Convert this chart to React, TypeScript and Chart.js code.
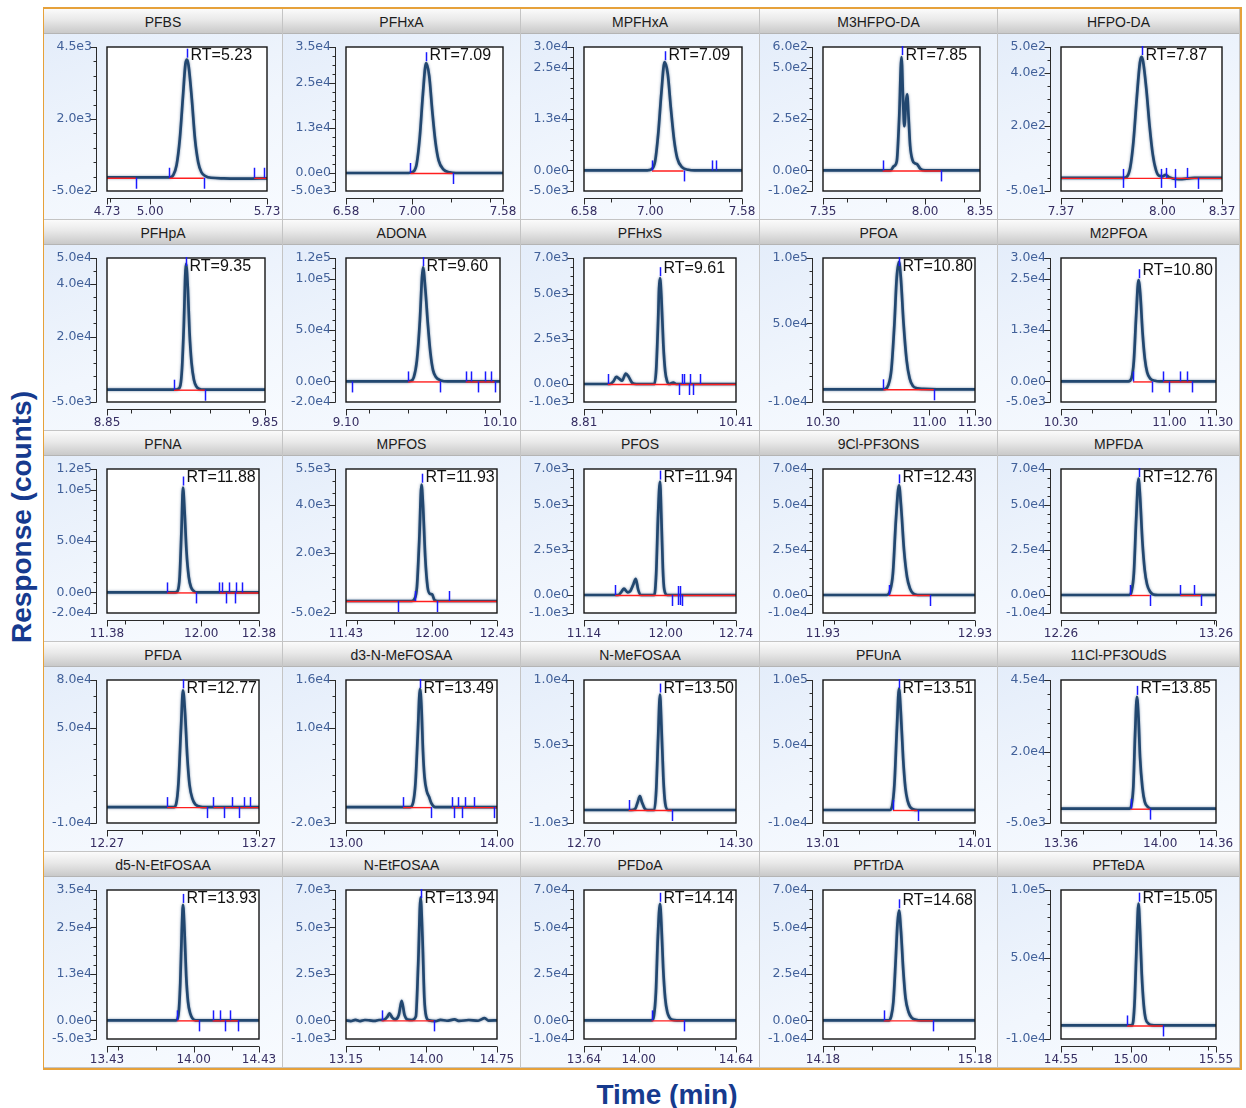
import React, { useEffect, useRef } from "react";
import { Chart, registerables } from "chart.js";

Chart.register(...registerables);

// ---------- data ----------
const TITLES = [
  "PFBS", "PFHxA", "MPFHxA", "M3HFPO-DA", "HFPO-DA",
  "PFHpA", "ADONA", "PFHxS", "PFOA", "M2PFOA",
  "PFNA", "MPFOS", "PFOS", "9Cl-PF3ONS", "MPFDA",
  "PFDA", "d3-N-MeFOSAA", "N-MeFOSAA", "PFUnA", "11Cl-PF3OUdS",
  "d5-N-EtFOSAA", "N-EtFOSAA", "PFDoA", "PFTrDA", "PFTeDA",
];

const RT_VALUES = [
  5.23, 7.09, 7.09, 7.85, 7.87,
  9.35, 9.6, 9.61, 10.8, 10.8,
  11.88, 11.93, 11.94, 12.43, 12.76,
  12.77, 13.49, 13.5, 13.51, 13.85,
  13.93, 13.94, 14.14, 14.68, 15.05,
];

const X_RANGES = [
  [4.73, 5.73], [6.58, 7.58], [6.58, 7.58], [7.35, 8.35], [7.37, 8.37],
  [8.85, 9.85], [9.1, 10.1], [8.81, 10.41], [10.3, 11.3], [10.3, 11.3],
  [11.38, 12.38], [11.43, 12.43], [11.14, 12.74], [11.93, 12.93], [12.26, 13.26],
  [12.27, 13.27], [13.0, 14.0], [12.7, 14.3], [13.01, 14.01], [13.36, 14.36],
  [13.43, 14.43], [13.15, 14.75], [13.64, 14.64], [14.18, 15.18], [14.55, 15.55],
];

const X_MID_LABELS = [
  [5.0], [7.0], [7.0], [8.0], [8.0],
  [], [], [], [11.0], [11.0],
  [12.0], [12.0], [12.0], [], [],
  [], [], [], [], [14.0],
  [14.0], [14.0], [14.0], [], [15.0],
];

const X_MINOR_STEP = [
  0.25, 0.25, 0.25, 0.25, 0.25,
  0.25, 0.25, 0.5, 0.25, 0.25,
  0.25, 0.25, 0.5, 0.25, 0.25,
  0.25, 0.25, 0.5, 0.25, 0.25,
  0.25, 0.5, 0.25, 0.25, 0.25,
];

const Y_TICKS = [
  [4500, 2000, -500], [35000, 25000, 12500, 0, -5000], [30000, 25000, 12500, 0, -5000], [600, 500, 250, 0, -100], [500, 400, 200, -50],
  [50000, 40000, 20000, -5000], [120000, 100000, 50000, 0, -20000], [7000, 5000, 2500, 0, -1000], [100000, 50000, -10000], [30000, 25000, 12500, 0, -5000],
  [120000, 100000, 50000, 0, -20000], [5500, 4000, 2000, -500], [7000, 5000, 2500, 0, -1000], [70000, 50000, 25000, 0, -10000], [70000, 50000, 25000, 0, -10000],
  [80000, 50000, -10000], [16000, 10000, -2000], [10000, 5000, -1000], [100000, 50000, -10000], [45000, 20000, -5000],
  [35000, 25000, 12500, 0, -5000], [7000, 5000, 2500, 0, -1000], [70000, 50000, 25000, 0, -10000], [70000, 50000, 25000, 0, -10000], [100000, 50000, -10000],
];

const Y_MINOR_STEP = [
  500, 2500, 2500, 50, 50,
  5000, 10000, 500, 10000, 2500,
  10000, 500, 500, 5000, 5000,
  10000, 2000, 1000, 10000, 5000,
  2500, 500, 5000, 5000, 10000,
];

// chromatogram traces: [time (min), response (counts)]
const TRACES = [
  [[4.73, -30], [5.12, -30], [5.145, 60], [5.165, 400], [5.185, 1300], [5.205, 2800], [5.22, 3900], [5.23, 4060], [5.24, 3850], [5.26, 2700], [5.28, 1300], [5.3, 500], [5.32, 150], [5.345, 20], [5.38, -40], [5.46, -60], [5.6, -70], [5.73, -60]],
  [[6.58, 0], [6.98, 0], [7.01, 400], [7.03, 2500], [7.05, 10000], [7.07, 22000], [7.09, 30500], [7.11, 27000], [7.13, 17000], [7.15, 8500], [7.17, 3500], [7.2, 1000], [7.24, 200], [7.28, 0], [7.58, 0]],
  [[6.58, 0], [6.98, 0], [7.01, 350], [7.03, 2200], [7.05, 9000], [7.07, 19000], [7.09, 26300], [7.11, 23500], [7.13, 15000], [7.15, 7500], [7.17, 3000], [7.2, 800], [7.24, 150], [7.28, 0], [7.58, 0]],
  [[7.35, 0], [7.78, 0], [7.8, 20], [7.82, 45], [7.835, 250], [7.85, 551], [7.861, 320], [7.868, 215], [7.878, 330], [7.886, 370], [7.895, 260], [7.905, 120], [7.92, 50], [7.935, 35], [7.95, 30], [7.97, 8], [8.0, 0], [8.35, 0]],
  [[7.37, 0], [7.76, 0], [7.78, 5], [7.8, 40], [7.82, 140], [7.84, 300], [7.86, 440], [7.87, 462], [7.88, 445], [7.9, 340], [7.92, 200], [7.94, 90], [7.96, 30], [7.98, 8], [8.0, 6], [8.02, 12], [8.04, 3], [8.1, -5], [8.2, 0], [8.37, 0]],
  [[8.85, -300], [9.28, -300], [9.3, 0], [9.315, 1500], [9.325, 8000], [9.335, 22000], [9.35, 47800], [9.362, 38000], [9.372, 22000], [9.385, 10000], [9.4, 3500], [9.415, 1000], [9.435, 0], [9.46, -300], [9.85, -300]],
  [[9.1, 0], [9.5, 0], [9.52, 500], [9.54, 4000], [9.56, 20000], [9.58, 60000], [9.593, 100000], [9.6, 111000], [9.615, 90000], [9.632, 55000], [9.648, 28000], [9.665, 11000], [9.685, 4000], [9.715, 1000], [9.76, 0], [10.1, 0]],
  [[8.81, 0], [9.08, 0], [9.12, 150], [9.15, 400], [9.18, 300], [9.21, 180], [9.25, 580], [9.28, 400], [9.32, 50], [9.36, 0], [9.55, 0], [9.57, 800], [9.59, 3500], [9.6, 5300], [9.61, 5880], [9.625, 4800], [9.645, 2200], [9.665, 700], [9.685, 150], [9.71, 0], [9.75, 80], [9.78, 0], [10.41, 0]],
  [[10.3, -300], [10.69, -300], [10.71, 0], [10.73, 3000], [10.75, 15000], [10.77, 50000], [10.785, 85000], [10.8, 97000], [10.812, 85000], [10.83, 50000], [10.85, 22000], [10.87, 8000], [10.89, 2500], [10.92, 500], [10.96, 0], [11.05, -300], [11.3, -300]],
  [[10.3, 0], [10.735, 0], [10.755, 800], [10.77, 5000], [10.785, 16000], [10.8, 24600], [10.812, 21000], [10.826, 12000], [10.841, 5500], [10.856, 2200], [10.876, 700], [10.906, 150], [10.936, 0], [11.3, 0]],
  [[11.38, 0], [11.83, 0], [11.845, 1500], [11.858, 15000], [11.87, 60000], [11.88, 102000], [11.89, 80000], [11.903, 40000], [11.918, 15000], [11.933, 5000], [11.95, 1500], [11.97, 0], [12.38, 0]],
  [[11.43, 0], [11.865, 0], [11.885, 100], [11.9, 600], [11.915, 2500], [11.93, 4846], [11.94, 4000], [11.955, 1800], [11.97, 600], [11.985, 300], [12.0, 280], [12.015, 50], [12.035, 0], [12.43, 0]],
  [[11.14, 0], [11.5, 0], [11.53, 150], [11.56, 350], [11.6, 150], [11.625, 200], [11.66, 600], [11.685, 900], [11.71, 300], [11.74, 0], [11.88, 0], [11.9, 1200], [11.92, 4500], [11.94, 6300], [11.955, 4200], [11.97, 1500], [11.985, 300], [12.015, 0], [12.74, 0]],
  [[11.93, 0], [12.35, 0], [12.37, 2000], [12.39, 12000], [12.41, 42000], [12.43, 60900], [12.443, 50000], [12.463, 25000], [12.483, 10000], [12.503, 3500], [12.523, 800], [12.553, 0], [12.93, 0]],
  [[12.26, 0], [12.7, 0], [12.715, 2000], [12.73, 12000], [12.745, 42000], [12.76, 64600], [12.77, 55000], [12.785, 30000], [12.8, 14000], [12.815, 6000], [12.835, 1800], [12.855, 300], [12.885, 0], [13.26, 0]],
  [[12.27, 0], [12.71, 0], [12.725, 2000], [12.74, 15000], [12.757, 50000], [12.77, 73500], [12.783, 60000], [12.798, 32000], [12.813, 14000], [12.833, 5000], [12.853, 1500], [12.873, 500], [12.9, 0], [13.27, 0]],
  [[13.0, 0], [13.425, 0], [13.445, 600], [13.46, 3000], [13.475, 9000], [13.49, 14900], [13.5, 12500], [13.51, 7000], [13.52, 3800], [13.535, 2000], [13.55, 1300], [13.565, 500], [13.59, 0], [14.0, 0]],
  [[12.7, 0], [13.2, 0], [13.24, 100], [13.265, 600], [13.288, 1060], [13.31, 600], [13.34, 100], [13.37, 0], [13.44, 0], [13.46, 1500], [13.48, 5500], [13.5, 8880], [13.515, 6500], [13.535, 2500], [13.555, 500], [13.585, 0], [14.3, 0]],
  [[13.01, 0], [13.45, 0], [13.465, 3000], [13.48, 20000], [13.497, 65000], [13.51, 93400], [13.522, 75000], [13.537, 40000], [13.552, 17000], [13.567, 7000], [13.582, 2500], [13.602, 600], [13.632, 0], [14.01, 0]],
  [[13.36, 0], [13.805, 0], [13.815, 1500], [13.827, 8000], [13.838, 26000], [13.85, 39100], [13.86, 32000], [13.87, 18000], [13.885, 7500], [13.9, 2500], [13.92, 600], [13.94, 0], [14.36, 0]],
  [[13.43, 0], [13.885, 0], [13.9, 1500], [13.912, 10000], [13.922, 24000], [13.93, 31000], [13.94, 24000], [13.951, 12000], [13.963, 5000], [13.978, 1800], [13.993, 500], [14.013, 0], [14.43, 0]],
  [[13.15, 0], [13.2, -40], [13.25, 30], [13.3, -40], [13.35, 20], [13.4, 0], [13.45, -30], [13.5, 20], [13.55, 30], [13.59, 200], [13.61, 380], [13.64, 150], [13.67, 50], [13.71, 300], [13.74, 1050], [13.77, 300], [13.8, 50], [13.85, 20], [13.89, 200], [13.915, 3000], [13.94, 6600], [13.96, 4500], [13.98, 1200], [14.0, 200], [14.03, 0], [14.1, -40], [14.15, 30], [14.22, -20], [14.3, 50], [14.35, -30], [14.45, 20], [14.55, -20], [14.62, 120], [14.66, -10], [14.75, 0]],
  [[13.64, 0], [14.086, 0], [14.1, 2500], [14.113, 15000], [14.126, 45000], [14.14, 62600], [14.15, 50000], [14.161, 28000], [14.174, 12000], [14.188, 4500], [14.203, 1500], [14.221, 300], [14.251, 0], [14.64, 0]],
  [[14.18, 0], [14.613, 0], [14.628, 2000], [14.643, 10000], [14.658, 32000], [14.67, 52000], [14.68, 59100], [14.693, 48000], [14.708, 27000], [14.723, 12000], [14.743, 4500], [14.763, 1500], [14.793, 300], [14.823, 0], [15.18, 0]],
  [[14.55, 0], [15.006, 0], [15.016, 3000], [15.026, 20000], [15.038, 60000], [15.05, 89900], [15.06, 70000], [15.071, 38000], [15.084, 15000], [15.096, 5000], [15.116, 1200], [15.136, 200], [15.166, 0], [15.55, 0]],
];

// baseline level (counts) used for the integration lines and event marks
const BASELINE_LEVEL = [
  -40, 0, 0, 0, 0,
  -300, 0, 0, -300, 0,
  0, 0, 0, 0, 0,
  0, 0, 0, 0, 0,
  0, 0, 0, 0, 0,
];

// integration baselines (red): [start time, end time]
const BASELINES = [
  [[4.73, 4.91], [5.12, 5.335], [5.65, 5.73]],
  [[6.99, 7.26]],
  [[7.01, 7.21]],
  [[7.73, 8.1]],
  [[7.37, 8.37]],
  [[9.274, 9.47]],
  [[9.503, 9.71], [9.878, 10.065]],
  [[9.06, 10.41]],
  [[10.697, 11.03]],
  [[10.765, 10.888], [10.96, 11.145]],
  [[11.776, 11.968], [12.12, 12.38]],
  [[11.43, 12.43]],
  [[11.47, 12.74]],
  [[12.363, 12.637]],
  [[12.705, 12.833], [13.03, 13.165]],
  [[12.666, 12.93], [12.97, 13.27]],
  [[13.377, 13.565], [13.7, 14.0]],
  [[13.17, 13.626]],
  [[13.47, 13.632]],
  [[13.81, 13.934]],
  [[13.89, 14.035], [14.125, 14.295]],
  [[13.527, 14.08]],
  [[14.085, 14.3]],
  [[14.58, 14.905]],
  [[14.976, 15.208]],
];

// peak event marks (blue): [time, direction 1 up / -1 down / 0 both]
const EVENT_MARKS = [
  [[4.91, -1], [5.12, 1], [5.335, -1], [5.65, 1], [5.71, 1]],
  [[6.99, 1], [7.26, -1]],
  [[7.01, 1], [7.21, -1], [7.39, 1], [7.415, 1]],
  [[7.73, 1], [8.1, -1]],
  [[7.753, 0], [7.994, 0], [8.02, 1], [8.08, 0], [8.15, 1], [8.22, -1]],
  [[9.274, 1], [9.47, -1]],
  [[9.14, -1], [9.503, 1], [9.71, -1], [9.878, 1], [9.91, 1], [9.96, -1], [10.0, 1], [10.04, 1], [10.065, -1]],
  [[9.06, 1], [9.813, -1], [9.845, 1], [9.86, 1], [9.915, -1], [9.926, 1], [9.955, -1], [10.03, 1]],
  [[10.697, 1], [11.03, -1]],
  [[10.765, 1], [10.888, -1], [10.96, 1], [11.0, -1], [11.07, 1], [11.115, 1], [11.145, -1]],
  [[11.776, 1], [11.968, -1], [12.12, 1], [12.135, 1], [12.16, -1], [12.18, 1], [12.22, -1], [12.23, 1], [12.27, 1]],
  [[11.772, -1], [11.884, 1], [12.03, -1], [12.11, 1]],
  [[11.47, 1], [12.066, -1], [12.13, 0], [12.15, 0], [12.17, -1]],
  [[12.363, 1], [12.637, -1]],
  [[12.705, 1], [12.833, -1], [13.03, 1], [13.115, 1], [13.165, -1]],
  [[12.666, 1], [12.93, -1], [12.97, 1], [13.04, -1], [13.09, 1], [13.14, -1], [13.17, 1], [13.21, 1]],
  [[13.377, 1], [13.565, -1], [13.7, 1], [13.715, -1], [13.745, 1], [13.765, -1], [13.785, 1], [13.845, 1], [13.98, -1]],
  [[13.17, 1], [13.626, -1]],
  [[13.47, 1], [13.632, -1]],
  [[13.81, 1], [13.934, -1]],
  [[13.89, 1], [14.035, -1], [14.125, 1], [14.175, 1], [14.205, -1], [14.24, 1], [14.295, -1]],
  [[13.527, 1], [14.08, -1]],
  [[14.085, 1], [14.3, -1]],
  [[14.58, 1], [14.905, -1]],
  [[14.976, 1], [15.208, -1]],
];

// ---------- layout / style ----------
const COL_W = [239, 238, 239, 238, 242];
const ROW_H = [211, 211, 211, 210, 216];
const RIGHT_PAD = [
  15, 17, 17, 17, 17,
  17, 20, 23, 22, 23,
  23, 23, 23, 22, 23,
  23, 23, 23, 22, 23,
  23, 23, 23, 22, 23,
];
const TITLE_H = 25;
const LINE_COLOR = "#22476f";
const RED = "#ff1e1e";
const BLUE = "#1a1aff";
const AXIS_COLOR = "#2a2a2a";
const Y_LABEL_COLOR = "#42619a";
const X_LABEL_COLOR = "#352d62";
const TITLE_BLUE = "#163a8e";

function fmtExp(v: number): string {
  return Number(v).toExponential(1).replace("e+", "e");
}

function buildChart(canvas: HTMLCanvasElement, i: number) {
  const [xmin, xmax] = X_RANGES[i];
  const yTicks = Y_TICKS[i];
  const ymax = yTicks[0];
  const ymin = yTicks[yTicks.length - 1];
  const trace = TRACES[i];
  const xMajor = [xmin, ...X_MID_LABELS[i], xmax];
  const peak = Math.max(...trace.map((p) => p[1]));
  const level = BASELINE_LEVEL[i];

  const decor = {
    id: "decor",
    beforeDraw(chart: any) {
      const { ctx, chartArea: a } = chart;
      ctx.save();
      ctx.fillStyle = "#ffffff";
      ctx.fillRect(a.left, a.top, a.right - a.left, a.bottom - a.top);
      ctx.restore();
    },
    beforeDatasetsDraw(chart: any) {
      const ctx = chart.ctx;
      ctx.save();
      ctx.shadowColor = "rgba(40,75,120,0.6)";
      ctx.shadowBlur = 2.5;
    },
    afterDatasetsDraw(chart: any) {
      const { ctx, chartArea: a, scales } = chart;
      ctx.restore();
      const xs = (v: number) => scales.x.getPixelForValue(v);
      const ys = (v: number) => scales.y.getPixelForValue(v);
      const base = ys(level);

      // baselines + event marks (clipped to plot box)
      ctx.save();
      ctx.beginPath();
      ctx.rect(a.left, a.top, a.right - a.left, a.bottom - a.top);
      ctx.clip();
      ctx.strokeStyle = RED;
      ctx.lineWidth = 1.4;
      for (const [t1, t2] of BASELINES[i]) {
        ctx.beginPath();
        ctx.moveTo(xs(t1), base + 0.5);
        ctx.lineTo(xs(t2), base + 0.5);
        ctx.stroke();
      }
      ctx.strokeStyle = BLUE;
      ctx.lineWidth = 1.5;
      for (const [t, dir] of EVENT_MARKS[i]) {
        const px = Math.round(xs(t)) + 0.5;
        let y0 = base - 9;
        let y1 = base + 10;
        if (dir > 0) { y0 = base - 10; y1 = base; }
        if (dir < 0) { y0 = base; y1 = base + 11; }
        ctx.beginPath();
        ctx.moveTo(px, y0);
        ctx.lineTo(px, y1);
        ctx.stroke();
      }
      ctx.restore();

      // plot box
      ctx.save();
      ctx.strokeStyle = "#141414";
      ctx.lineWidth = 1.4;
      ctx.strokeRect(a.left, a.top, a.right - a.left, a.bottom - a.top);

      // y axis (offset left of the box)
      ctx.strokeStyle = AXIS_COLOR;
      ctx.lineWidth = 1;
      const xa = Math.round(a.left - 11) + 0.5;
      ctx.beginPath();
      ctx.moveTo(xa, a.top);
      ctx.lineTo(xa, a.bottom);
      const ystep = Y_MINOR_STEP[i];
      for (let v = Math.ceil(ymin / ystep - 1e-9) * ystep; v <= ymax + 1e-9; v += ystep) {
        const py = Math.round(ys(v)) + 0.5;
        ctx.moveTo(xa, py);
        ctx.lineTo(xa - 3, py);
      }
      for (const v of yTicks) {
        const py = Math.round(ys(v)) + 0.5;
        ctx.moveTo(xa, py);
        ctx.lineTo(xa - 6, py);
      }
      ctx.stroke();

      // x axis (offset below the box)
      const ya = Math.round(a.bottom + 7) + 0.5;
      ctx.beginPath();
      ctx.moveTo(a.left, ya);
      ctx.lineTo(a.right, ya);
      const xstep = X_MINOR_STEP[i];
      for (let v = Math.ceil(xmin / xstep - 1e-9) * xstep; v <= xmax + 1e-9; v += xstep) {
        const px = Math.round(xs(v)) + 0.5;
        ctx.moveTo(px, ya);
        ctx.lineTo(px, ya + 4);
      }
      for (const v of xMajor) {
        const px = Math.round(xs(v)) + 0.5;
        ctx.moveTo(px, ya);
        ctx.lineTo(px, ya + 6);
      }
      ctx.stroke();

      // RT marker + label
      const rx = Math.round(xs(RT_VALUES[i])) + 0.5;
      const apexY = ys(peak);
      const mTop = Math.max(a.top - 1, apexY - 11);
      ctx.strokeStyle = BLUE;
      ctx.lineWidth = 1.5;
      ctx.beginPath();
      ctx.moveTo(rx, mTop);
      ctx.lineTo(rx, mTop + 9);
      ctx.stroke();
      ctx.fillStyle = "#111111";
      ctx.font = '16px "Liberation Sans", Arial, sans-serif';
      ctx.textAlign = "left";
      ctx.textBaseline = "middle";
      ctx.fillText("RT=" + RT_VALUES[i].toFixed(2), rx + 3, Math.max(a.top + 9, apexY - 10));
      ctx.restore();
    },
  };

  return new Chart(canvas, {
    type: "line",
    data: {
      datasets: [
        {
          data: trace.map(([x, y]) => ({ x, y })),
          borderColor: LINE_COLOR,
          borderWidth: 2.7,
          pointRadius: 0,
          fill: false,
          cubicInterpolationMode: "monotone",
        },
      ],
    },
    options: {
      animation: false,
      responsive: false,
      devicePixelRatio: 1,
      events: [],
      layout: { padding: { top: 13, right: RIGHT_PAD[i], left: 0, bottom: 0 } },
      plugins: { legend: { display: false }, tooltip: { enabled: false } },
      scales: {
        x: {
          type: "linear",
          min: xmin,
          max: xmax,
          bounds: "data",
          grid: { display: false, drawTicks: false },
          border: { display: false },
          afterBuildTicks: (s: any) => {
            s.ticks = xMajor.map((v) => ({ value: v }));
          },
          afterFit: (s: any) => {
            s.height = 28;
            s.paddingLeft = 0;
            s.paddingRight = 0;
          },
          ticks: {
            autoSkip: false,
            maxRotation: 0,
            minRotation: 0,
            padding: 14,
            color: X_LABEL_COLOR,
            font: { family: '"DejaVu Sans", Verdana, sans-serif', size: 12 },
            callback: (v: any) => Number(v).toFixed(2),
          },
        },
        y: {
          type: "linear",
          min: ymin,
          max: ymax,
          bounds: "data",
          grid: { display: false, drawTicks: false },
          border: { display: false },
          afterBuildTicks: (s: any) => {
            s.ticks = yTicks.map((v) => ({ value: v }));
          },
          afterFit: (s: any) => {
            s.width = 63;
            s.paddingTop = 0;
            s.paddingBottom = 0;
          },
          ticks: {
            autoSkip: false,
            padding: 15,
            color: Y_LABEL_COLOR,
            font: { family: '"DejaVu Sans", Verdana, sans-serif', size: 12.5 },
            callback: (v: any) => fmtExp(Number(v)),
          },
        },
      },
    } as any,
    plugins: [decor],
  });
}

function Panel({ index, w, h }: { index: number; w: number; h: number }) {
  const ref = useRef<HTMLCanvasElement | null>(null);
  useEffect(() => {
    if (!ref.current) return;
    const chart = buildChart(ref.current, index);
    return () => chart.destroy();
  }, [index, w, h]);
  return <canvas ref={ref} width={w} height={h} style={{ display: "block", width: w, height: h }} />;
}

export default function App() {
  const cells: React.ReactNode[] = [];
  for (let r = 0; r < 5; r++) {
    for (let c = 0; c < 5; c++) {
      const i = r * 5 + c;
      const w = COL_W[c] - 1;
      const h = ROW_H[r] - TITLE_H - 1;
      cells.push(
        <div
          key={i}
          style={{
            boxSizing: "border-box",
            borderRight: "1px solid #c4c4c4",
            borderBottom: "1px solid #c4c4c4",
            overflow: "hidden",
          }}
        >
          <div
            style={{
              height: TITLE_H,
              boxSizing: "border-box",
              paddingTop: 2,
              borderBottom: "1px solid #b4b4b4",
              background: "linear-gradient(#fbfbfb 0%, #e9e9e9 45%, #c9c9c9 100%)",
              textAlign: "center",
              font: '14px "Liberation Sans", Arial, sans-serif',
              lineHeight: "22px",
              color: "#1c1c1c",
              whiteSpace: "nowrap",
            }}
          >
            {TITLES[i]}
          </div>
          <div style={{ background: "linear-gradient(160deg, #e4edfa 0%, #f1f6fd 55%, #f8fbff 100%)", height: h }}>
            <Panel index={i} w={w} h={h} />
          </div>
        </div>
      );
    }
  }

  return (
    <div style={{ position: "absolute", left: 0, top: 0, width: 1246, height: 1108, background: "#ffffff", overflow: "hidden" }}>
      <div
        style={{
          position: "absolute",
          left: 43,
          top: 7,
          boxSizing: "content-box",
          borderTop: "2px solid #e6a13a",
          borderBottom: "2px solid #e6a13a",
          borderLeft: "1px solid #e6a13a",
          borderRight: "2px solid #e6a13a",
          display: "grid",
          gridTemplateColumns: COL_W.map((v) => v + "px").join(" "),
          gridTemplateRows: ROW_H.map((v) => v + "px").join(" "),
          width: COL_W.reduce((s, v) => s + v, 0),
          height: ROW_H.reduce((s, v) => s + v, 0),
        }}
      >
        {cells}
      </div>
      <div
        style={{
          position: "absolute",
          left: 22,
          top: 517,
          transform: "translate(-50%, -50%) rotate(-90deg)",
          whiteSpace: "nowrap",
          font: 'bold 28px "Liberation Sans", Arial, sans-serif',
          color: TITLE_BLUE,
        }}
      >
        Response (counts)
      </div>
      <div
        style={{
          position: "absolute",
          left: 667,
          top: 1095,
          transform: "translate(-50%, -50%)",
          whiteSpace: "nowrap",
          font: 'bold 28px "Liberation Sans", Arial, sans-serif',
          color: TITLE_BLUE,
        }}
      >
        Time (min)
      </div>
    </div>
  );
}
